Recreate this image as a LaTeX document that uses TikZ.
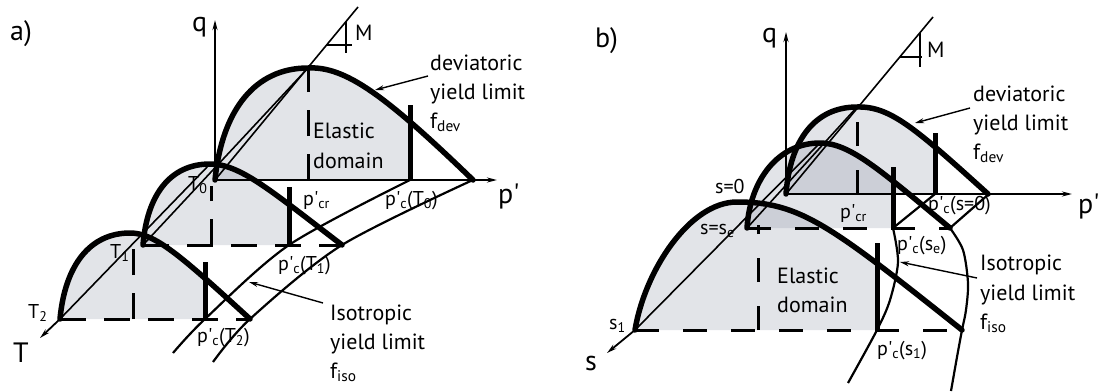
\documentclass[tikz,border=0pt]{standalone}
\usepackage{fontspec}
\setmainfont{PT Sans}
\usetikzlibrary{arrows.meta}
\begin{document}
\begin{tikzpicture}[x=1pt,y=-1pt,
  thickc/.style={line width=5.5pt,line cap=round,line join=round},
  pcline/.style={line width=5pt},
  thinl/.style={line width=1.6pt},
  isol/.style={line width=2.2pt},
  axisl/.style={line width=1.8pt,-{Stealth[length=10pt,width=5pt]}},
  ptr/.style={line width=1.4pt,-{Stealth[length=9pt,width=5pt]}},
  dasha/.style={line width=3pt,dash pattern=on 26pt off 18pt},
  dashb/.style={line width=3pt,dash pattern=on 24pt off 24pt},
  region/.style={fill={rgb,1:red,0.55;green,0.58;blue,0.65},fill opacity=0.25},
  lbl/.style={anchor=base west,inner sep=0pt,font=\fontsize{22}{26}\selectfont},
  sml/.style={anchor=base west,inner sep=0pt,font=\fontsize{20}{24}\selectfont},
  big/.style={anchor=base west,inner sep=0pt,font=\fontsize{28}{32}\selectfont}]
\fill[white] (0,0) rectangle (1100,391);
\useasboundingbox (0,0) rectangle (1100,391);
% ---------------- panel a ----------------
\coordinate (O0) at (215,180); \coordinate (P0) at (308,68); \coordinate (E0) at (473,180);
\coordinate (O1) at (143,245); \coordinate (P1) at (210,164); \coordinate (E1) at (342,245);
\coordinate (O2) at (60,319);  \coordinate (P2) at (130,233); \coordinate (E2) at (250,319);
\coordinate (Mtopa) at (358,7); \coordinate (Tend) at (40,338);
\coordinate (qa) at (215,20); \coordinate (pa) at (497,180);
% fills
\begin{scope}\clip (0,0) rectangle (410,391);
\fill[region] (O0) .. controls (222,110) and (255,68) .. (P0) .. controls (345,66) and (385,95) .. (E0) -- cycle;
\end{scope}
\begin{scope}\clip (0,0) rectangle (289,391);
\fill[region] (O1) .. controls (147,195) and (170,164) .. (P1) .. controls (240,164) and (270,190) .. (E1) -- cycle;
\end{scope}
\begin{scope}\clip (0,0) rectangle (205,391);
\fill[region] (O2) .. controls (65,265) and (90,233) .. (P2) .. controls (155,233) and (180,255) .. (E2) -- cycle;
\end{scope}
% axes
\draw[axisl] (O0) -- (qa);
\draw[axisl] (O0) -- (pa);
\draw[axisl] (O2) -- (Tend);
% dashed
\draw[dasha] (O1) -- (E1);
\draw[dasha] (O2) -- (E2);
\draw[dasha] (308,180) -- (P0);
\draw[dasha] (211,245) -- (211,186);
\draw[dasha] (133,319) -- (133,249);
% M lines
\draw[thinl] (O2) -- (P1);
\draw[thinl] (O1) -- (P0);
\draw[thinl] (O0) -- (Mtopa);
\draw[thinl] (327,45) -- (352,45);
\draw[thinl] (346,21.5) -- (346,53);
% isotropic
\draw[isol] plot[smooth] coordinates {(173,353) (205,319) (289,245) (410,180)};
\draw[isol] plot[smooth] coordinates {(213,362) (250,319) (342,245) (475,179)};
% pc verticals
\draw[pcline] (410,180) -- (410,105);
\draw[pcline] (289,245) -- (289,187);
\draw[pcline] (205,319) -- (205,262);
% curves
\draw[thickc] (O0) .. controls (222,110) and (255,68) .. (P0) .. controls (345,66) and (385,95) .. (E0);
\draw[thickc] (O1) .. controls (147,195) and (170,164) .. (P1) .. controls (240,164) and (270,190) .. (E1);
\draw[thickc] (O2) .. controls (65,265) and (90,233) .. (P2) .. controls (155,233) and (180,255) .. (E2);
% labels a
\node[big] (la) at (10,40) {a)};
\node[big] (lqa) at (192,31) {q};
\node[big] (lpa) at (498,203) {p\textquotesingle};
\node[big] (lTa) at (13,362) {T};
\node[lbl] (lMa) at (355,40) {M};
\node[lbl] (dev1a) at (430,70) {deviatoric};
\node[lbl] (dev2a) at (430,99) {yield limit};
\node[lbl] (dev3a) at (430,128) {f\textsubscript{dev}};
\node[lbl] (el1a) at (313,138) {Elastic};
\node[lbl] (el2a) at (313,168) {domain};
\node[sml] (pcra) at (303,205) {p\textquotesingle\textsubscript{cr}};
\node[sml] (pc0a) at (385,205) {p\textquotesingle\textsubscript{c}(T\textsubscript{0})};
\node[sml] (pc1a) at (278,270) {p\textquotesingle\textsubscript{c}(T\textsubscript{1})};
\node[sml] (pc2a) at (197,342) {p\textquotesingle\textsubscript{c}(T\textsubscript{2})};
\node[sml] (T0a) at (188,190) {T\textsubscript{0}};
\node[sml] (T1a) at (110,258) {T\textsubscript{1}};
\node[sml] (T2a) at (28,318) {T\textsubscript{2}};
\node[lbl] (iso1a) at (330,320) {Isotropic};
\node[lbl] (iso2a) at (330,349) {yield limit};
\node[lbl] (iso3a) at (330,378) {f\textsubscript{iso}};
\coordinate (devtaila) at (428,76); \coordinate (devtipa) at (375,90);
\coordinate (isotaila) at (323,303); \coordinate (isotipa) at (249,282);
\draw[ptr] (devtaila) -- (devtipa);
\draw[ptr] (isotaila) -- (isotipa);
% ---------------- panel b ----------------
\coordinate (S0) at (786,194); \coordinate (Q0) at (857,107); \coordinate (F0) at (988,194);
\coordinate (Se) at (747,228); \coordinate (Qe) at (820,143); \coordinate (Fe) at (950,228);
\coordinate (S1) at (635,330); \coordinate (Q1) at (737,202); \coordinate (F1) at (962,330);
\coordinate (Mtopb) at (933,17); \coordinate (send) at (607,353);
\coordinate (qb) at (786,32); \coordinate (pb) at (1072,194);
\begin{scope}\clip (0,0) rectangle (935,391);
\fill[region] (S0) .. controls (790,140) and (815,107) .. (Q0) .. controls (890,106) and (915,128) .. (F0) -- cycle;
\end{scope}
\begin{scope}\clip (0,0) rectangle (893,391);
\fill[region] (Se) .. controls (750,180) and (778,143) .. (Qe) .. controls (850,143) and (880,170) .. (Fe) -- cycle;
\end{scope}
\begin{scope}\clip (0,0) rectangle (877,391);
\fill[region] (S1) .. controls (645,270) and (690,202) .. (Q1) .. controls (800,202) and (830,225) .. (F1) -- cycle;
\end{scope}
\draw[axisl] (S0) -- (qb);
\draw[axisl] (S0) -- (pb);
\draw[axisl] (S1) -- (send);
\draw[dashb] (Se) -- (Fe);
\draw[dashb] (S1) -- (F1);
\draw[dashb] (857,194) -- (Q0);
\draw[dashb] (758,330) -- (758,225);
\draw[thinl] (S1) -- (Qe);
\draw[thinl] (Se) -- (Q0);
\draw[thinl] (S0) -- (Mtopb);
\draw[thinl] (900,57) -- (922,57);
\draw[thinl] (920,33) -- (920,67);
\draw[isol] (935,194) -- (893,228);
\draw[isol] plot[smooth] coordinates {(893,228) (898,262) (890,300) (877,330) (848,383)};
\draw[isol] (990,193) -- (950,228);
\draw[isol] plot[smooth] coordinates {(950,228) (963,250) (968,283) (966,310) (962,330) (957,357) (951,391)};
\draw[pcline] (935,194) -- (935,133);
\draw[pcline] (893,228) -- (893,167);
\draw[pcline] (877,330) -- (877,243);
\draw[thickc] (S0) .. controls (790,140) and (815,107) .. (Q0) .. controls (890,106) and (915,128) .. (F0);
\draw[thickc] (Se) .. controls (750,180) and (778,143) .. (Qe) .. controls (850,143) and (880,170) .. (Fe);
\draw[thickc] (S1) .. controls (645,270) and (690,202) .. (Q1) .. controls (800,202) and (830,225) .. (F1);
\node[big] (lb) at (595,47) {b)};
\node[big] (lqb) at (762,42) {q};
\node[big] (lpb) at (1078,213) {p\textquotesingle};
\node[big] (lsb) at (585,370) {s};
\node[lbl] (lMb) at (927,57) {M};
\node[lbl] (dev1b) at (973,101) {deviatoric};
\node[lbl] (dev2b) at (973,130) {yield limit};
\node[lbl] (dev3b) at (973,159) {f\textsubscript{dev}};
\node[lbl] (el1b) at (777,283) {Elastic};
\node[lbl] (el2b) at (777,312) {domain};
\node[sml] (pcrb) at (840,218) {p\textquotesingle\textsubscript{cr}};
\node[sml] (pc0b) at (928,210) {p\textquotesingle\textsubscript{c}(s=0)};
\node[sml] (pceb) at (897,250) {p\textquotesingle\textsubscript{c}(s\textsubscript{e})};
\node[sml] (pc1b) at (877,355) {p\textquotesingle\textsubscript{c}(s\textsubscript{1})};
\node[sml] (s0b) at (715,193) {s=0};
\node[sml] (seb) at (700,234) {s=s\textsubscript{e}};
\node[sml] (s1b) at (609,329) {s\textsubscript{1}};
\node[lbl] (iso1b) at (980,270) {Isotropic};
\node[lbl] (iso2b) at (980,300) {yield limit};
\node[lbl] (iso3b) at (980,329) {f\textsubscript{iso}};
\coordinate (devtailb) at (970,108); \coordinate (devtipb) at (915,123);
\coordinate (isotailb) at (977,278); \coordinate (isotipb) at (900,262);
\draw[ptr] (devtailb) -- (devtipb);
\draw[ptr] (isotailb) -- (isotipb);
\end{tikzpicture}
\end{document}
